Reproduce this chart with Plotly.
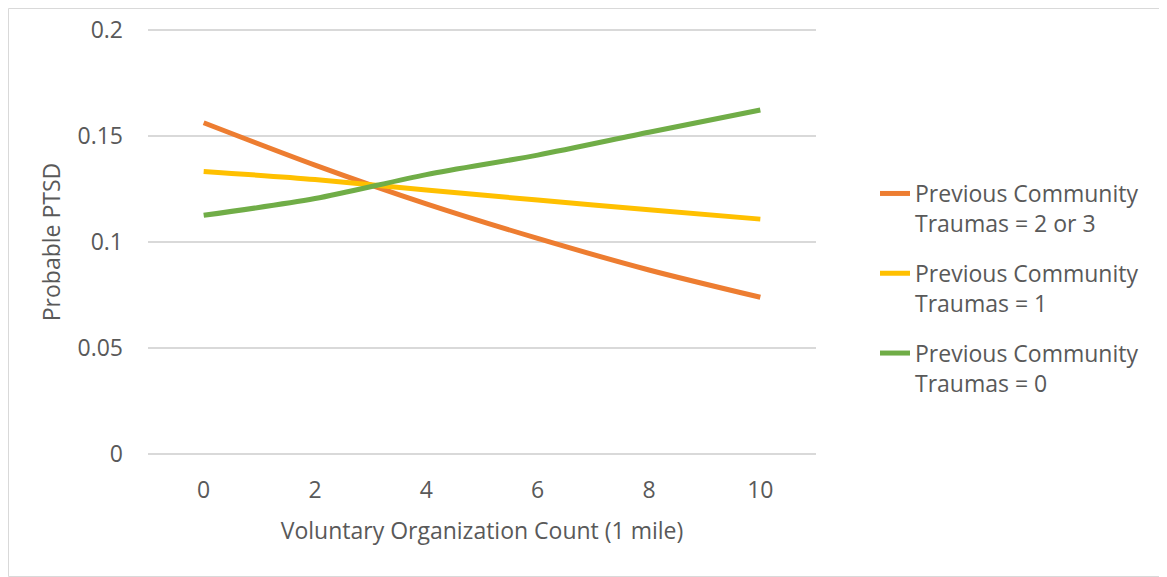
import plotly.graph_objects as go

x_vals = [0, 2, 4, 6, 8, 10]
traumas_2_3 = [0.1563, 0.1363, 0.1180, 0.1017, 0.0868, 0.0739]
traumas_1 = [0.1333, 0.1295, 0.1245, 0.1198, 0.1152, 0.1108]
traumas_0 = [0.1126, 0.1205, 0.1318, 0.1410, 0.1518, 0.1623]

series_names = [
    "Previous Community<br>Traumas = 2 or 3",
    "Previous Community<br>Traumas = 1",
    "Previous Community<br>Traumas = 0",
]
series_values = [traumas_2_3, traumas_1, traumas_0]
series_colors = ["#ED7D31", "#FFC000", "#70AD47"]

x_ticks = [0, 2, 4, 6, 8, 10]
y_ticks = [0, 0.05, 0.1, 0.15, 0.2]
y_tick_text = ["0", "0.05", "0.1", "0.15", "0.2"]

FONT = "Open Sans"
TXT = "#595959"
FS = 23

fig = go.Figure()
for i, (name, vals, col) in enumerate(zip(series_names, series_values, series_colors)):
    fig.add_trace(go.Scatter(
        x=x_vals, y=vals, name=name, mode="lines",
        line=dict(color=col, width=5, shape="spline", smoothing=0.8),
        legendgroup=f"g{i}",
    ))

# page body has an 8px margin; compensate so the chart lands where the reference has it
OFF = 8
W, H = 1167 - OFF, 577 - OFF
# y range padded a little so the 0 and 0.2 gridlines are not clipped at the edges
PAD = 0.001
PXU = 424 / 0.2  # pixels per unit on y (0 at 454, 0.2 at 30 in page coords)
L, R = 148 - OFF, 816 - OFF
T = round(30 - PAD * PXU) - OFF
B = round(454 + PAD * PXU) - OFF
pw, ph = R - L, B - T

fig.update_layout(
    width=W, height=H,
    margin=dict(l=L, r=W - R, t=T, b=H - B, autoexpand=False),
    paper_bgcolor="white", plot_bgcolor="white",
    font=dict(family=FONT, size=FS, color=TXT),
    showlegend=True,
    legend=dict(
        x=(875 - OFF - L) / pw, y=(B - (172 - OFF)) / ph, xanchor="left", yanchor="top",
        font=dict(family=FONT, size=FS, color=TXT),
        tracegroupgap=17, valign="top", bgcolor="rgba(0,0,0,0)",
    ),
    xaxis=dict(
        range=[-1, 11], tickvals=x_ticks, showgrid=False, zeroline=False,
        showline=False, ticks="", ticklabelstandoff=18, automargin=False,
        title=dict(text="Voluntary Organization Count (1 mile)", standoff=18,
                   font=dict(size=FS, color=TXT)),
        tickfont=dict(size=FS, color=TXT),
    ),
    yaxis=dict(
        range=[-PAD, 0.2 + PAD], tickvals=y_ticks, ticktext=y_tick_text,
        showgrid=True, gridcolor="#D9D9D9", gridwidth=1.5, zeroline=False,
        showline=False, ticks="", ticklabelstandoff=24, automargin=False,
        title=dict(text="Probable PTSD", standoff=10, font=dict(size=FS, color=TXT)),
        tickfont=dict(size=FS, color=TXT),
    ),
    shapes=[dict(
        type="rect", xref="paper", yref="paper",
        x0=(0.5 - L) / pw, x1=(W - 0.5 - L) / pw,
        y0=(B - (H - 0.5)) / ph, y1=(B - 0.5) / ph,
        line=dict(color="#D9D9D9", width=1), fillcolor="rgba(0,0,0,0)", layer="below",
    )],
)

fig.write_html("out.html")
